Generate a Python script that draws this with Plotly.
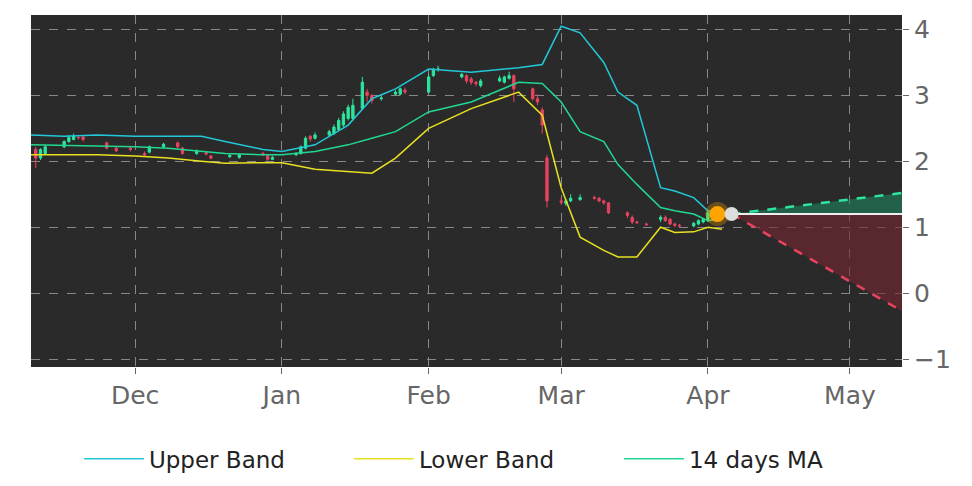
import plotly.graph_objects as go

c_dates = ["2020-11-10","2020-11-11","2020-11-12","2020-11-16","2020-11-17","2020-11-18","2020-11-19","2020-11-20",
"2020-11-25","2020-11-27","2020-11-30","2020-12-03","2020-12-04","2020-12-07","2020-12-10","2020-12-11","2020-12-14",
"2020-12-16","2020-12-17","2020-12-21","2020-12-23","2020-12-28","2020-12-29","2020-12-30","2021-01-04","2021-01-05",
"2021-01-06","2021-01-07","2021-01-08","2021-01-11","2021-01-12","2021-01-13","2021-01-14","2021-01-15","2021-01-16",
"2021-01-18","2021-01-19","2021-01-20","2021-01-22","2021-01-25","2021-01-26","2021-01-27","2021-02-01","2021-02-02",
"2021-02-03","2021-02-08","2021-02-09","2021-02-10","2021-02-11","2021-02-12","2021-02-16","2021-02-17","2021-02-18",
"2021-02-19","2021-02-23","2021-02-24","2021-02-25","2021-02-26","2021-03-01","2021-03-02","2021-03-03","2021-03-05",
"2021-03-08","2021-03-09","2021-03-10","2021-03-11","2021-03-15","2021-03-16","2021-03-17","2021-03-19","2021-03-22",
"2021-03-23","2021-03-24","2021-03-25","2021-03-26","2021-03-29","2021-03-30","2021-03-31","2021-04-01"]
c_open = [2.18,2.05,2.12,2.22,2.30,2.33,2.36,2.37,2.28,2.20,2.20,2.12,2.14,2.22,2.28,2.20,2.12,2.13,2.08,2.07,2.06,2.12,2.08,2.03,2.10,2.12,2.20,2.38,2.35,2.40,2.42,2.48,2.55,2.65,2.65,
2.80,3.05,3.00,2.95,3.02,3.02,3.08,3.05,3.30,3.40,3.28,3.30,3.25,3.20,3.15,3.22,3.20,3.26,3.30,3.10,2.95,2.78,2.05,1.40,1.36,1.40,1.42,
1.45,1.44,1.40,1.37,1.22,1.15,1.08,1.05,1.12,1.15,1.12,1.05,1.03,1.02,1.05,1.08,1.10]
c_close = [2.05,2.18,2.22,2.30,2.36,2.38,2.36,2.33,2.20,2.16,2.18,2.10,2.22,2.26,2.22,2.12,2.15,2.11,2.05,2.09,2.10,2.10,2.03,2.06,2.12,2.22,2.35,2.34,2.40,2.45,2.52,2.62,2.72,2.82,2.85,
3.20,3.00,2.92,2.96,3.05,3.10,3.05,3.28,3.38,3.40,3.32,3.22,3.20,3.18,3.22,3.26,3.28,3.30,3.10,2.95,2.90,2.55,1.40,1.38,1.40,1.44,1.45,
1.44,1.40,1.37,1.22,1.18,1.08,1.07,1.04,1.15,1.10,1.05,1.03,1.02,1.06,1.10,1.12,1.22]
c_high = [2.22,2.20,2.25,2.32,2.40,2.42,2.38,2.38,2.30,2.22,2.22,2.15,2.24,2.28,2.30,2.22,2.18,2.15,2.10,2.11,2.12,2.14,2.10,2.08,2.14,2.24,2.38,2.40,2.44,2.48,2.56,2.66,2.76,2.86,2.95,
3.28,3.10,3.02,3.00,3.08,3.12,3.12,3.32,3.42,3.45,3.34,3.32,3.28,3.22,3.25,3.30,3.30,3.36,3.32,3.12,3.02,2.82,2.10,1.45,1.42,1.50,1.50,
1.48,1.46,1.42,1.38,1.24,1.18,1.10,1.07,1.18,1.18,1.14,1.07,1.05,1.08,1.12,1.14,1.26]
c_low = [1.90,2.02,2.10,2.20,2.28,2.32,2.33,2.30,2.18,2.14,2.15,2.08,2.12,2.20,2.20,2.10,2.10,2.09,2.03,2.05,2.04,2.08,2.01,2.02,2.08,2.10,2.18,2.30,2.33,2.38,2.40,2.46,2.52,2.62,2.62,
2.78,2.90,2.88,2.92,3.00,3.00,3.02,3.03,3.28,3.36,3.26,3.18,3.16,3.14,3.12,3.20,3.18,3.24,2.90,2.92,2.85,2.42,1.30,1.34,1.32,1.38,1.40,
1.42,1.38,1.34,1.20,1.14,1.05,1.05,1.02,1.08,1.08,1.03,1.00,1.00,1.00,1.03,1.06,1.08]

b_dates = ["2020-11-09","2020-11-16","2020-11-23","2020-12-01","2020-12-08","2020-12-15","2020-12-20","2020-12-28","2021-01-01",
"2021-01-08","2021-01-15","2021-01-20","2021-01-25","2021-02-01","2021-02-10","2021-02-20","2021-02-25","2021-03-01","2021-03-05",
"2021-03-10","2021-03-13","2021-03-17","2021-03-22","2021-03-25","2021-03-29","2021-04-01","2021-04-04"]
upper = [2.40,2.38,2.40,2.38,2.38,2.38,2.30,2.18,2.15,2.25,2.55,2.95,3.10,3.40,3.35,3.42,3.47,4.05,3.95,3.50,3.05,2.85,1.60,1.55,1.45,1.25,1.20]
ma = [2.25,2.24,2.24,2.22,2.20,2.15,2.12,2.10,2.10,2.15,2.25,2.35,2.45,2.75,2.90,3.20,3.18,2.90,2.45,2.30,1.95,1.65,1.30,1.25,1.20,1.10,1.13]
lower = [2.10,2.10,2.10,2.08,2.05,2.00,1.97,1.98,1.98,1.88,1.85,1.82,2.05,2.50,2.80,3.05,2.70,1.60,0.85,0.65,0.55,0.55,1.00,0.92,0.93,1.00,0.97]

proj_dates = ["2021-04-06","2021-05-12"]
proj_mid = [1.20,1.20]
proj_up = [1.20,1.52]
proj_low = [1.20,-0.27]
last_date, last_val = "2021-04-03", 1.20

fig = go.Figure()
fig.add_trace(go.Scatter(x=proj_dates, y=proj_mid, mode="lines", line=dict(color="#eeeeee", width=2), showlegend=False))
fig.add_trace(go.Scatter(x=proj_dates, y=proj_up, mode="lines", fill="tonexty", fillcolor="rgba(30,140,100,0.55)",
                         line=dict(color="#2ee59d", width=2.5, dash="dash"), showlegend=False))
fig.add_trace(go.Scatter(x=proj_dates, y=proj_mid, mode="lines", line=dict(color="#eeeeee", width=2), showlegend=False))
fig.add_trace(go.Scatter(x=proj_dates, y=proj_low, mode="lines", fill="tonexty", fillcolor="rgba(120,40,50,0.6)",
                         line=dict(color="#e8445f", width=2.5, dash="dash"), showlegend=False))
fig.add_trace(go.Scatter(x=b_dates, y=upper, mode="lines", name="Upper Band", line=dict(color="#22c8d8", width=1.5)))
fig.add_trace(go.Scatter(x=b_dates, y=lower, mode="lines", name="Lower Band", line=dict(color="#e8e020", width=1.5)))
fig.add_trace(go.Scatter(x=b_dates, y=ma, mode="lines", name="14 days MA", line=dict(color="#22d890", width=1.5)))
fig.add_trace(go.Candlestick(x=c_dates, open=c_open, high=c_high, low=c_low, close=c_close, showlegend=False,
                             whiskerwidth=0,
                             increasing=dict(line=dict(color="#2ee59d", width=1), fillcolor="#2ee59d"),
                             decreasing=dict(line=dict(color="#e8445f", width=1), fillcolor="#e8445f")))
fig.add_trace(go.Scatter(x=[last_date], y=[last_val], mode="markers", showlegend=False,
                         marker=dict(color="orange", size=16, line=dict(color="rgba(255,165,0,0.3)", width=8))))
fig.add_trace(go.Scatter(x=[proj_dates[0]], y=[proj_mid[0]], mode="markers", showlegend=False,
                         marker=dict(color="#dddddd", size=14)))

grid = dict(showgrid=True, gridcolor="#888888", griddash="dash", gridwidth=1, zeroline=False, automargin=False,
            tickfont=dict(size=25, color="#666666"), ticks="outside", ticklen=6, tickcolor="#666666", showline=False)
fig.update_layout(
    width=972, height=486, paper_bgcolor="white", plot_bgcolor="#2a2a2a",
    margin=dict(l=23, r=78, t=7, b=127, autoexpand=False),
    font=dict(family="DejaVu Sans"),
    xaxis=dict(range=["2020-11-09", "2021-05-12"], rangeslider=dict(visible=False),
               tickvals=["2020-12-01","2021-01-01","2021-02-01","2021-03-01","2021-04-01","2021-05-01"],
               ticktext=["Dec","Jan","Feb","Mar","Apr","May"], **grid),
    yaxis=dict(range=[-1.12, 4.22], side="right", tickvals=[-1,0,1,2,3,4], **grid),
    legend=dict(orientation="h", x=0.055, xanchor="left", y=-0.2, yanchor="top", traceorder="normal",
                itemwidth=60, entrywidth=195, font=dict(size=23, color="#222")),
)
fig.write_html("out.html")
